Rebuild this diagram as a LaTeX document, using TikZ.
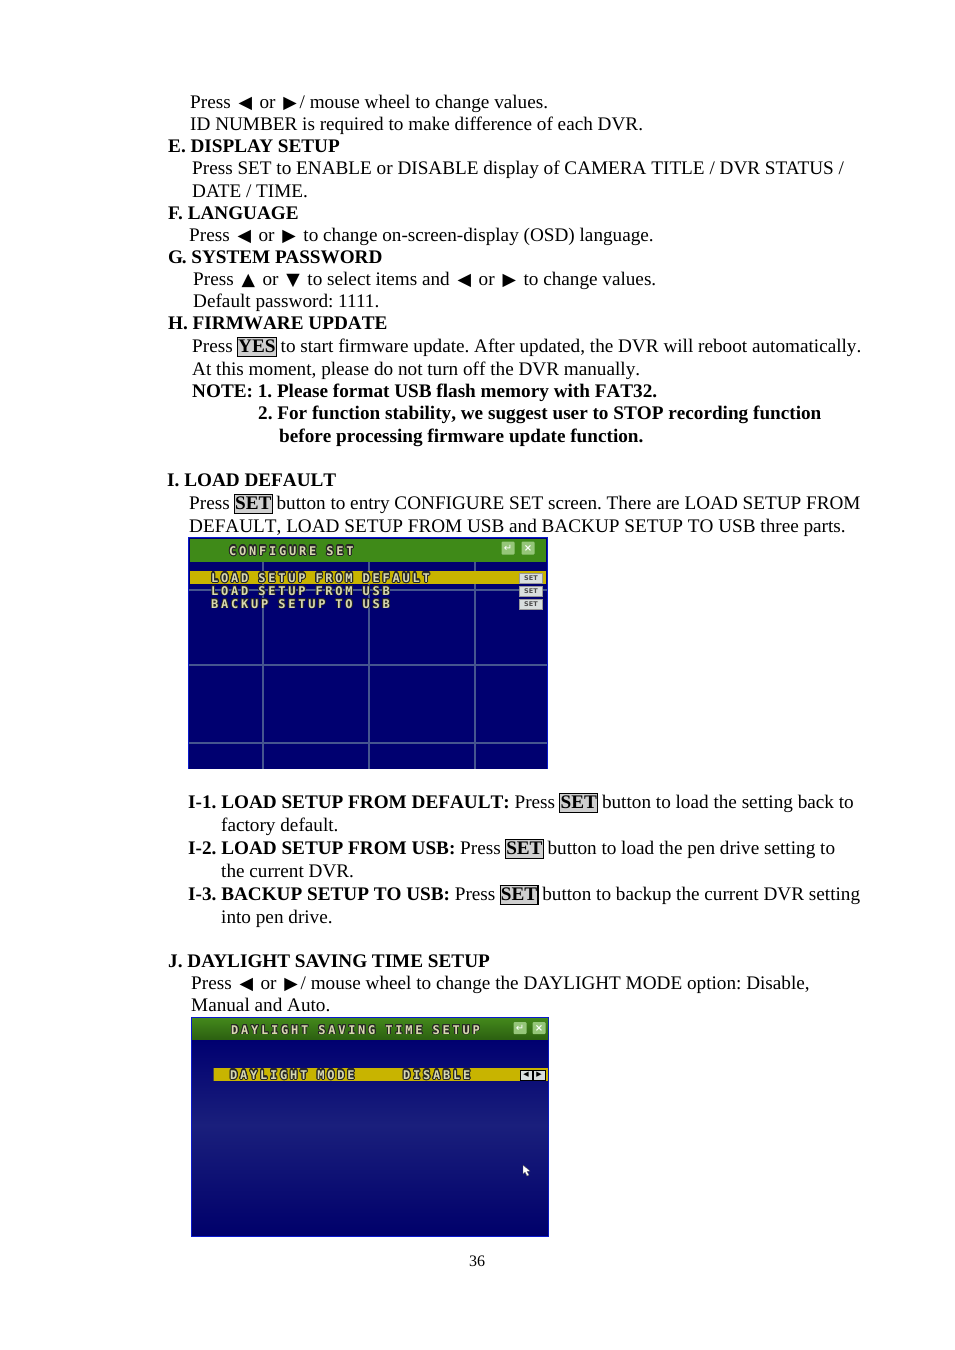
\documentclass[tikz,border=0pt]{standalone}
\usepackage{fontspec}
\usepackage{contour}
\setmainfont{Liberation Serif}
\newfontfamily\symf{DejaVu Sans}
\newfontfamily\symb{DejaVu Sans Bold}
\newfontfamily\osd[LetterSpace=23]{DejaVu Sans Mono Bold}
\newfontfamily\bkf[Kerning=Off]{Liberation Serif Bold}
\newfontfamily\rkf[Kerning=Off]{Liberation Serif}
\contourlength{1.1pt}
\definecolor{hlgray}{HTML}{CFCFCF}
\definecolor{navy}{HTML}{000070}
\definecolor{edgeblue}{HTML}{0A1ACC}
\definecolor{barg}{HTML}{3F8A18}
\definecolor{barl}{HTML}{4FA020}
\definecolor{gold}{HTML}{C8B400}
\definecolor{gridc}{HTML}{45558F}
\definecolor{osdlt}{HTML}{D8D8B0}
\definecolor{btn}{HTML}{D8DEDE}
\definecolor{mid}{HTML}{1A1F7C}
\newcommand{\arrowg}[1]{\kern3.1pt{\symf\fontsize{17.5}{17.5}\selectfont #1}\kern2.7pt\relax}
\newcommand{\Lft}{\arrowg{◀}}
\newcommand{\Rgt}{\arrowg{▶}}
\newcommand{\Upa}{\arrowg{▲}}
\newcommand{\Dna}{\arrowg{▼}}
\newcommand{\hlb}[1]{\kern-.6pt{\fboxsep=0.2pt\fboxrule=1.1pt\fcolorbox{black}{hlgray}{\rule[-3.6pt]{0pt}{17pt}\textbf{#1}}}\kern-1pt\relax}
\newcommand{\osdt}[1]{\contour{black!85}{\color{osdlt}#1}}
\tikzset{x=1pt,y=-1pt,
 ln/.style={anchor=base west,inner sep=0pt,font=\frenchspacing\fontsize{19.2}{22}\selectfont},
 osdl/.style={anchor=base west,inner sep=0pt,font=\osd\fontsize{12}{12}\selectfont},
 btnbox/.style={fill=btn,draw=black!40,line width=.5pt,minimum width=23pt,minimum height=10pt,inner sep=0pt,font=\symb\fontsize{6.5}{6.5}\selectfont,text=black!70},
 gridl/.style={gridc,line width=1.4pt},
 iconb/.style={fill=barl!60!white,rounded corners=1pt,minimum width=13pt,minimum height=13pt,inner sep=0pt,font=\symb\fontsize{10}{10}\selectfont,text=white}}
\begin{document}
\begin{tikzpicture}
\useasboundingbox (0,0) rectangle (954,1350);
\fill[white] (0,0) rectangle (954,1350);
\node[ln] (a1) at (190,108) {Press \Lft{} or \Rgt{}/ mouse wheel to change values.};
\node[ln] (a2) at (190,130) {ID NUMBER is required to make difference of each DVR.};
\node[ln] (e0) at (168,152) {\textbf{E. DISPLAY SETUP}};
\node[ln] (e1) at (192,174) {Press SET to ENABLE or DISABLE display of CAMERA TITLE / DVR STATUS /};
\node[ln] (e2) at (192,197) {DATE / TIME.};
\node[ln] (f0) at (168,219) {\textbf{F. LANGUAGE}};
\node[ln] (f1) at (189,241) {Press \Lft{} or \Rgt{} to change on-screen-display (OSD) language.};
\node[ln] (g0) at (168,263) {\textbf{G\kern-1.4pt. SYSTEM PASSWORD}};
\node[ln] (g1) at (193,285) {Press \Upa{} or \Dna{} to select items and \Lft{} or \Rgt{} to change values.};
\node[ln] (g2) at (193,307) {Default password: 1111.};
\node[ln] (h0) at (168,329) {{\bkf H. FIRMWARE UPDATE}};
\node[ln] (h1) at (192,352) {Press \hlb{YES} {\rkf to start firmware update. After updated, the DVR will reboot automatically.}};
\node[ln] (h2) at (192,375) {{\rkf At this moment, please do not turn off the DVR manually.}};
\node[ln] (h3) at (192,397) {{\bkf NOTE: 1. Please format USB flash memory with FAT32.}};
\node[ln] (h4) at (258,419) {{\bkf 2. For function stability, we suggest user to STOP recording function}};
\node[ln] (h5) at (279,442) {{\bkf before processing firmware update function.}};
\node[ln] (i0) at (167,486) {{\bkf I. LOAD DEFAULT}};
\node[ln] (i1) at (189,509) {Press \hlb{SET} {\rkf button to entry CONFIGURE SET screen. There are LOAD SETUP FROM}};
\node[ln] (i2) at (189,532) {{\rkf DEFAULT, LOAD SETUP FROM USB and BACKUP SETUP TO USB three parts.}};
% screen 1
\fill[navy] (188,537) rectangle (548,769);
\draw[gridl] (263,562) -- (263,769) (369,562) -- (369,769) (475,562) -- (475,769)
  (188,590) -- (548,590) (188,665) -- (548,665) (188,743) -- (548,743);
\draw[edgeblue,line width=1.2pt] (188.5,768.5) -- (188.5,537.5) -- (547.5,537.5) -- (547.5,768.5);
\fill[barg] (190,539) rectangle (546,562);
\node[osdl] (s1t) at (229,555) {\osdt{CONFIGURE SET}};
\node[iconb] (s1a) at (508,548) {\symf ↵};
\node[iconb] (s1b) at (528,548) {×};
\fill[gold] (190,571) rectangle (546,584);
\node[osdl] (s1l1) at (211,582) {\osdt{LOAD SETUP FROM DEFAULT}};
\node[osdl] (s1l2) at (211,595) {\contourlength{.7pt}\osdt{LOAD SETUP FROM USB}};
\node[osdl] (s1l3) at (211,608) {\contourlength{.7pt}\osdt{BACKUP SETUP TO USB}};
\node[btnbox] (s1s1) at (531,578) {SET};
\node[btnbox] (s1s2) at (531,591) {SET};
\node[btnbox] (s1s3) at (531,604) {SET};
% I items
\node[ln] (i11) at (188,808) {{\bkf I-1. LOAD SETUP FROM DEFAULT:} Press \hlb{SET} button to load the setting back to};
\node[ln] (i12) at (221,831) {factory default.};
\node[ln] (i21) at (188,854) {{\bkf I-2. LOAD SETUP FROM USB:} Press \hlb{SET} button to load the pen drive setting to};
\node[ln] (i22) at (221,877) {the current DVR.};
\node[ln] (i31) at (188,900) {{\bkf I-3. BACKUP SETUP TO USB:} Press \hlb{SET} button to backup the current DVR setting};
\node[ln] (i32) at (221,923) {into pen drive.};
\node[ln] (j0) at (168,967) {\textbf{J. DAYLIGHT SAVING TIME SETUP}};
\node[ln] (j1) at (191,989) {Press \Lft{} or \Rgt{}/ mouse wheel to change the DAYLIGHT MODE option: Disable,};
\node[ln] (j2) at (191,1011) {Manual and Auto.};
% screen 2
\fill[edgeblue] (191,1017) rectangle (549,1237);
\shade[top color=navy,bottom color=mid] (192,1040) rectangle (548,1125);
\shade[top color=mid,bottom color=navy!95!black] (192,1125) rectangle (548,1235.5);
\shade[top color=barl!85!black,bottom color=barg!70!black] (192,1018) rectangle (548,1039);
\node[osdl] (s2t) at (231,1034) {\contourlength{.9pt}\osdt{DAYLIGHT SAVING TIME SETUP}};
\node[iconb,minimum height=12pt] (s2a) at (520,1028) {\symf ↵};
\node[iconb,minimum height=12pt] (s2b) at (539,1028) {×};
\fill[gold] (213,1068) rectangle (548,1081);
\draw[black!70,line width=.8pt] (213,1068) -- (213,1081);
\node[osdl] (s2l) at (230,1079) {\osdt{DAYLIGHT MODE}};
\node[osdl] (s2d) at (403,1079) {\osdt{DISABLE}};
\node[btnbox,minimum width=12pt,minimum height=10pt,draw=black,font=\symf\fontsize{7}{7}\selectfont,text=black] (s2la) at (526,1075) {◀};
\node[btnbox,minimum width=12pt,minimum height=10pt,draw=black,font=\symf\fontsize{7}{7}\selectfont,text=black] (s2ra) at (539,1075) {▶};
\fill[white,draw=black!70,line width=.3pt] (523,1165) -- (523,1174) -- (525,1172) -- (527,1176) -- (529,1175) -- (527,1171.5) -- (530,1171) -- cycle;
\node[ln,font=\fontsize{16}{16}\selectfont] (pg) at (469,1266) {36};
\end{tikzpicture}
\end{document}
